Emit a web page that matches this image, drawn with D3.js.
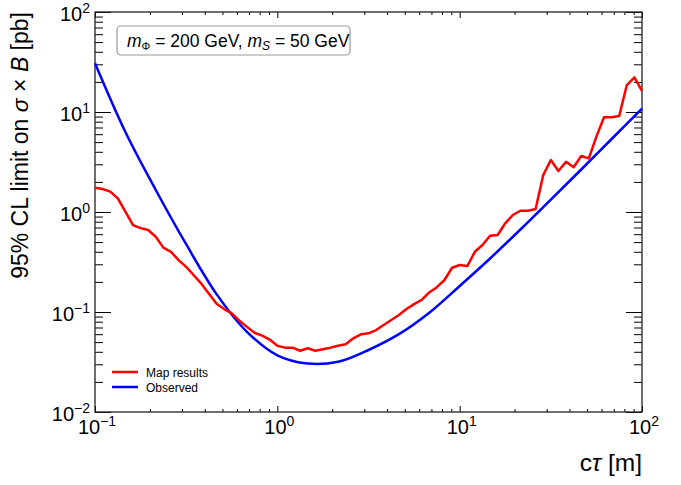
<!doctype html>
<html>
<head>
<meta charset="utf-8">
<title>cross-section limit vs ctau</title>
<script src="https://d3js.org/d3.v7.min.js"></script>
<style>
  body { margin:0; background:#fff; }
  text { font-family: "Liberation Sans", Arial, sans-serif; fill:#000; }
</style>
</head>
<body>
<svg id="chart" width="681" height="485"></svg>
<script>
// c*tau grid of the map scan (24 points per decade)
const ctauMap = [0.1, 0.1101, 0.1212, 0.1334, 0.1468, 0.1616, 0.1778, 0.1957, 0.2154, 0.2371, 0.2610, 0.2873,
  0.3162, 0.3481, 0.3831, 0.4217, 0.4642, 0.5109, 0.5623, 0.6190, 0.6813, 0.7499, 0.8254, 0.9085,
  1.0, 1.101, 1.212, 1.334, 1.468, 1.616, 1.778, 1.957, 2.154, 2.371, 2.610, 2.873,
  3.162, 3.481, 3.831, 4.217, 4.642, 5.109, 5.623, 6.190, 6.813, 7.499, 8.254, 9.085,
  10, 11.01, 12.12, 13.34, 14.68, 16.16, 17.78, 19.57, 21.54, 23.71, 26.10, 28.73,
  31.62, 34.81, 38.31, 42.17, 46.42, 51.09, 56.23, 61.90, 68.13, 74.99, 82.54, 90.85, 100];
const limitMap = [1.75, 1.70, 1.60, 1.37, 1.01, 0.74, 0.69, 0.66, 0.565, 0.44, 0.40, 0.33,
  0.283, 0.233, 0.192, 0.152, 0.121, 0.107, 0.097, 0.082, 0.071, 0.062, 0.058, 0.053,
  0.046, 0.044, 0.044, 0.041, 0.0434, 0.041, 0.0424, 0.044, 0.046, 0.0475, 0.0546, 0.0598,
  0.0612, 0.066, 0.0741, 0.0832, 0.0933, 0.107, 0.120, 0.132, 0.157, 0.177, 0.209, 0.277,
  0.295, 0.288, 0.40, 0.468, 0.579, 0.589, 0.771, 0.933, 1.03, 1.03, 1.07, 2.34,
  3.31, 2.57, 3.18, 2.80, 3.63, 3.44, 5.67, 8.85, 8.85, 9.12, 18.6, 22.2, 16.3];

// observed limit
const ctauObs = [0.1, 0.1468, 0.2154, 0.3162, 0.4642, 0.6813, 1.0, 1.468, 2.154, 3.162,
  4.642, 6.813, 10, 14.68, 21.54, 31.62, 46.42, 68.13, 100];
const limitObs = [30.7, 6.3, 1.66, 0.476, 0.151, 0.0634, 0.0369, 0.0305, 0.0318, 0.0417,
  0.060, 0.0984, 0.182, 0.343, 0.668, 1.33, 2.66, 5.37, 10.8];

const decades = [0.01, 0.1, 1, 10, 100];
const decadeExp = ["\u22122", "\u22121", "0", "1", "2"];
const seriesNames = ["Map results", "Observed"];
const seriesColors = ["#ff0000", "#0000ff"];

let margin = {top: 12, right: 39, bottom: 73, left: 95};
let svg = d3.select("#chart");
let W = 681 - margin.left - margin.right,
    H = 485 - margin.top - margin.bottom;

let x = d3.scaleLog().domain([0.1, 100]).range([margin.left, margin.left + W]);
let y = d3.scaleLog().domain([0.01, 100]).range([margin.top + H, margin.top]);

// minor ticks 2..9 in each decade
let minorX = [], minorY = [];
decades.forEach(d => { for (let k = 2; k <= 9; k++) { minorY.push(d * k); if (d >= 0.1 && d < 100) minorX.push(d * k); } });
minorY = minorY.filter(v => v < 100);
let majorX = decades.filter(d => d >= 0.1);

function tickAxis(axis, vals, size, tx) {
  let g = svg.append("g").attr("transform", tx)
    .call(axis.tickValues(vals).tickSizeInner(size).tickSizeOuter(0).tickFormat(""));
  g.select(".domain").remove();
  g.selectAll(".tick line").attr("stroke", "#000").attr("stroke-width", 1);
}
// ticks point inwards on all four sides
tickAxis(d3.axisLeft(y), minorY, -8, `translate(${margin.left},0)`);
tickAxis(d3.axisLeft(y), decades, -16, `translate(${margin.left},0)`);
tickAxis(d3.axisRight(y), minorY, -8, `translate(${margin.left + W},0)`);
tickAxis(d3.axisRight(y), decades, -16, `translate(${margin.left + W},0)`);
tickAxis(d3.axisBottom(x), minorX, -3, `translate(0,${margin.top + H})`);
tickAxis(d3.axisBottom(x), majorX, -6, `translate(0,${margin.top + H})`);
tickAxis(d3.axisTop(x), minorX, -3, `translate(0,${margin.top})`);
tickAxis(d3.axisTop(x), majorX, -6, `translate(0,${margin.top})`);

svg.append("rect")
  .attr("x", margin.left).attr("y", margin.top)
  .attr("width", W).attr("height", H)
  .attr("fill", "none").attr("stroke", "#222").attr("stroke-width", 1.3);

// tick labels 10^n
decades.forEach((d, i) => {
  let t = svg.append("text").attr("x", 90).attr("y", y(d) + 9)
    .attr("text-anchor", "end").style("font-size", "20px");
  t.append("tspan").text("10");
  t.append("tspan").attr("dy", -8).style("font-size", "14px").text(decadeExp[i]);
  if (d >= 0.1) {
    let u = svg.append("text").attr("x", x(d) + 2).attr("y", 434)
      .attr("text-anchor", "middle").style("font-size", "20px");
    u.append("tspan").text("10");
    u.append("tspan").attr("dy", -8).style("font-size", "14px").text(decadeExp[i]);
  }
});

// axis titles
let yt = svg.append("text")
  .attr("transform", `translate(28,${margin.top}) rotate(-90)`)
  .attr("text-anchor", "end").style("font-size", "23px");
yt.append("tspan").text("95% CL limit on ");
yt.append("tspan").style("font-style", "italic").text("\u03c3");
yt.append("tspan").text(" \u00d7 ");
yt.append("tspan").style("font-style", "italic").text("B");
yt.append("tspan").text(" [pb]");

let xt = svg.append("text").attr("x", margin.left + W).attr("y", 471)
  .attr("text-anchor", "end").style("font-size", "24.5px");
xt.append("tspan").text("c");
xt.append("tspan").style("font-style", "italic").text("\u03c4");
xt.append("tspan").text(" [m]");

// curves
let line = d3.line().x(d => x(d[0])).y(d => y(d[1]));
svg.append("path")
  .datum(d3.zip(ctauObs, limitObs))
  .attr("d", line.curve(d3.curveCatmullRom.alpha(0.5)))
  .attr("fill", "none").attr("stroke", seriesColors[1]).attr("stroke-width", 2.5);
svg.append("path")
  .datum(d3.zip(ctauMap, limitMap))
  .attr("d", line.curve(d3.curveLinear))
  .attr("fill", "none").attr("stroke", seriesColors[0]).attr("stroke-width", 2.5)
  .attr("stroke-linejoin", "round");

// mass point label
svg.append("rect").attr("x", 117).attr("y", 26).attr("width", 233).attr("height", 29)
  .attr("rx", 4).attr("fill", "#fff").attr("stroke", "#999").attr("stroke-width", 1.2);
let lab = svg.append("text").attr("x", 127).attr("y", 47).style("font-size", "17.5px");
lab.append("tspan").style("font-style", "italic").text("m");
lab.append("tspan").attr("dy", 3).style("font-size", "11px").text("\u03a6");
lab.append("tspan").attr("dy", -3).text(" = 200 GeV, ");
lab.append("tspan").style("font-style", "italic").text("m");
lab.append("tspan").attr("dy", 3).style("font-size", "12px").style("font-style", "italic").text("S");
lab.append("tspan").attr("dy", -3).text(" = 50 GeV");

// legend
seriesNames.forEach((name, i) => {
  let ly = 372 + i * 15;
  svg.append("line").attr("x1", 112).attr("x2", 138).attr("y1", ly).attr("y2", ly)
    .attr("stroke", seriesColors[i]).attr("stroke-width", 2.5);
  svg.append("text").attr("x", 146).attr("y", ly + 4.5).style("font-size", "12px").text(name);
});
</script>
</body>
</html>
